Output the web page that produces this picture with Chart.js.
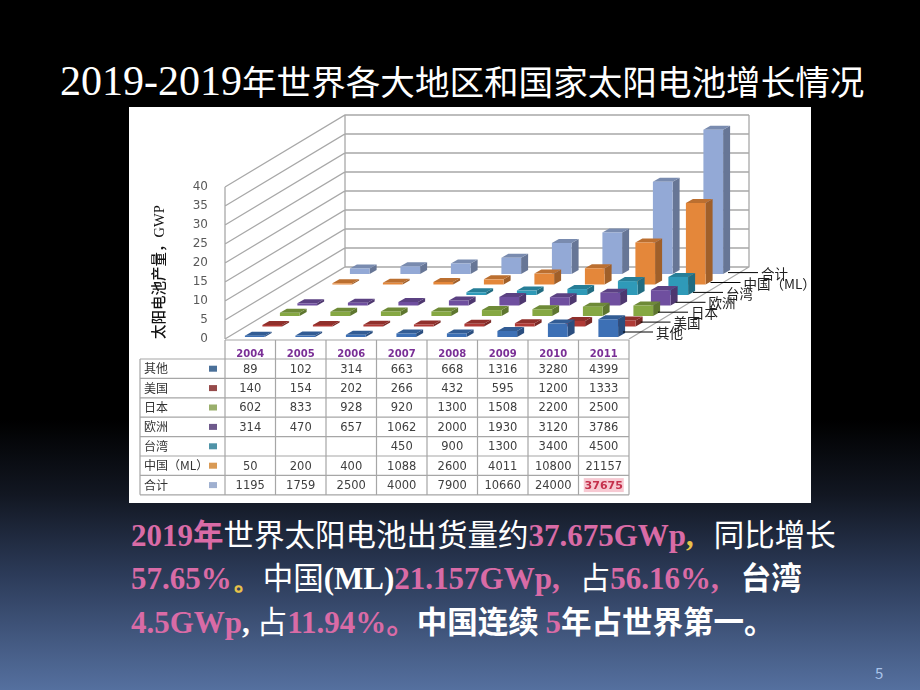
<!DOCTYPE html>
<html>
<head>
<meta charset="utf-8">
<script src="https://cdn.jsdelivr.net/npm/chart.js@4"></script>
<style>
html, body { margin: 0; padding: 0; }
body {
	width: 920px; height: 690px; overflow: hidden; position: relative;
	background: linear-gradient(#000 0, #000 420px, #121722 495px, #2c3b59 575px, #55709f 690px);
	font-family: "Noto Sans CJK SC", sans-serif; color: #fff;
}
#title {
	position: absolute; left: 60px; top: 50px; white-space: nowrap;
	font-size: 34.6px; line-height: 60px; font-weight: 400;
}
#title .num { font-family: "Liberation Serif"; font-size: 42px; }
#panel { position: absolute; left: 129px; top: 107px; width: 682px; height: 396px; background: #fff; }
.line {
	position: absolute; left: 131px; white-space: nowrap;
	font-size: 30.5px; line-height: 44px; height: 44px;
}
.line b { font-weight: 700; }
.p { color: #d96ba6; font-family: "Liberation Serif"; font-weight: 700; font-size: 31px; }
.pc { color: #d96ba6; font-weight: 700; }
.y { color: #e8c24a; font-family: "Liberation Serif"; font-weight: 700; }
.w { color: #fff; font-family: "Liberation Serif"; font-weight: 700; font-size: 31px; }
#page { position: absolute; left: 875px; top: 662px; font-size: 15px; color: #a9c4ea; }
</style>
</head>
<body>
<div id="title"><span class="num">2019-2019</span>年世界各大地区和国家太阳电池增长情况</div>
<div id="panel"><canvas id="myChart" width="682" height="396"></canvas></div>
<div class="line" style="top:511px"><span class="p">2019</span><span class="pc">年</span>世界太阳电池出货量约<span class="p">37.675GWp</span><span class="y">,</span><span style="margin-left:20px">同比增长</span></div>
<div class="line" style="top:554px"><span class="p">57.65%</span><span class="y">。</span>中国<span class="w">(ML)</span><span class="p">21.157GWp,</span><span style="margin-left:20px">占</span><span class="p">56.16%,</span><span style="margin-left:22px"><b>台湾</b></span></div>
<div class="line" style="top:598px"><span class="p">4.5GWp</span><span class="w">,</span>&nbsp;占<span class="p">11.94%</span><span class="pc">。</span><b>中国连续</b>&nbsp;<span class="p">5</span><b>年占世界第一。</b></div>
<div id="page">5</div>

<script>
const years = ["2004", "2005", "2006", "2007", "2008", "2009", "2010", "2011"];
const seriesNames = ["其他", "美国", "日本", "欧洲", "台湾", "中国（ML）", "合计"];

// MW, as printed in the table under the chart
const other = [89, 102, 314, 663, 668, 1316, 3280, 4399];
const usa = [140, 154, 202, 266, 432, 595, 1200, 1333];
const japan = [602, 833, 928, 920, 1300, 1508, 2200, 2500];
const europe = [314, 470, 657, 1062, 2000, 1930, 3120, 3786];
const taiwan = [null, null, null, 450, 900, 1300, 3400, 4500];
const chinaML = [50, 200, 400, 1088, 2600, 4011, 10800, 21157];
const total = [1195, 1759, 2500, 4000, 7900, 10660, 24000, 37675];
const allSeries = [other, usa, japan, europe, taiwan, chinaML, total];

const barColors = ["#3d70b5", "#b03a36", "#86a843", "#6f4f9f", "#2f9ab8", "#e4873a", "#93a9d6"];
const swatchColors = ["#4a7099", "#964a4a", "#9aaf6c", "#6e5a8c", "#4f93a8", "#d99a55", "#9fb0d0"];

// oblique projection of the 3d box
const WALL_DX = 120, WALL_DY = 72;
const ROW_DX = 17.5, ROW_DY = 10.5;
const BAR_DX = 7, BAR_DY = 4;
const TABLE_TOP = 252, ROW_H = 19.4, TABLE_LEFT = 11;

function shade(hex, f) {
	const n = parseInt(hex.slice(1), 16);
	const r = Math.round((n >> 16) * f), g = Math.round(((n >> 8) & 255) * f), b = Math.round((n & 255) * f);
	return "rgb(" + r + "," + g + "," + b + ")";
}

function poly(ctx, pts, fill) {
	ctx.beginPath();
	pts.forEach((p, i) => i ? ctx.lineTo(p[0], p[1]) : ctx.moveTo(p[0], p[1]));
	ctx.closePath();
	ctx.fillStyle = fill;
	ctx.fill();
}

const box3d = {
	id: "box3d",
	// push every row of bars back along the floor
	afterDatasetsUpdate(chart) {
		chart.getSortedVisibleDatasetMetas().forEach(meta => {
			const dx = 4.5 + ROW_DX * meta.index, dy = 3 + ROW_DY * meta.index;
			meta.data.forEach(el => {
				el.x += dx;
				el.y -= dy;
				el.base -= dy - 1;
			});
		});
	},
	beforeDatasetsDraw(chart) {
		const ctx = chart.ctx, a = chart.chartArea, y = chart.scales.y;
		ctx.save();
		ctx.strokeStyle = "#a8a8a8";
		ctx.lineWidth = 1.3;
		ctx.beginPath();
		y.ticks.forEach(t => {
			const py = y.getPixelForValue(t.value);
			ctx.moveTo(a.left, py);
			ctx.lineTo(a.left + WALL_DX, py - WALL_DY);
			ctx.lineTo(a.right + WALL_DX, py - WALL_DY);
		});
		ctx.moveTo(a.left + WALL_DX, a.top - WALL_DY);
		ctx.lineTo(a.left + WALL_DX, a.bottom - WALL_DY);
		ctx.moveTo(a.right + WALL_DX, a.top - WALL_DY);
		ctx.lineTo(a.right + WALL_DX, a.bottom - WALL_DY);
		ctx.lineTo(a.right, a.bottom);
		ctx.moveTo(a.left, a.top);
		ctx.lineTo(a.left, a.bottom);
		ctx.stroke();
		ctx.restore();
	},
	beforeDatasetDraw(chart, args) {
		const ctx = chart.ctx, color = barColors[args.index];
		args.meta.data.forEach((el, i) => {
			if (allSeries[args.index][i] == null) return;
			const l = el.x - el.width / 2, r = el.x + el.width / 2;
			poly(ctx, [[r, el.y], [r + BAR_DX, el.y - BAR_DY], [r + BAR_DX, el.base - BAR_DY], [r, el.base]], shade(color, 0.7));
			poly(ctx, [[l, el.y], [l + BAR_DX, el.y - BAR_DY], [r + BAR_DX, el.y - BAR_DY], [r, el.y]], shade(color, 0.82));
		});
	},
	afterDatasetsDraw(chart) {
		const ctx = chart.ctx, a = chart.chartArea, x = chart.scales.x;
		ctx.save();

		// series names on the floor edge
		ctx.textBaseline = "middle";
		ctx.font = "13.5px 'Noto Sans CJK SC'";
		seriesNames.forEach((name, i) => {
			const ly = 225 - 9.9 * i;
			ctx.strokeStyle = "#000";
			ctx.lineWidth = 1;
			ctx.beginPath();
			ctx.moveTo(494 + ROW_DX * i, ly);
			ctx.lineTo(524 + ROW_DX * i, ly);
			ctx.stroke();
			ctx.fillStyle = "#222";
			ctx.fillText(name, 527 + ROW_DX * i, ly + 1);
		});

		// data table
		const bottom = TABLE_TOP + ROW_H * seriesNames.length;
		ctx.strokeStyle = "#a6a6a6";
		ctx.lineWidth = 1.2;
		ctx.beginPath();
		ctx.moveTo(a.left, a.bottom + 1);
		ctx.lineTo(a.right, a.bottom + 1);
		for (let r = 0; r <= seriesNames.length; r++) {
			ctx.moveTo(TABLE_LEFT, TABLE_TOP + ROW_H * r);
			ctx.lineTo(a.right, TABLE_TOP + ROW_H * r);
		}
		ctx.moveTo(TABLE_LEFT, TABLE_TOP);
		ctx.lineTo(TABLE_LEFT, bottom);
		for (let c = 0; c <= years.length; c++) {
			const vx = a.left + (a.right - a.left) / years.length * c;
			ctx.moveTo(vx, a.bottom + 1);
			ctx.lineTo(vx, bottom);
		}
		ctx.stroke();

		seriesNames.forEach((name, r) => {
			const cy = TABLE_TOP + ROW_H * (r + 0.5);
			ctx.font = "12px 'Noto Sans CJK SC'";
			ctx.textAlign = "left";
			ctx.fillStyle = "#333";
			ctx.fillText(name, 15, cy);
			ctx.fillStyle = swatchColors[r];
			ctx.fillRect(80, cy - 3, 8, 6);
			ctx.font = "11.5px 'DejaVu Sans'";
			ctx.textAlign = "center";
			allSeries[r].forEach((v, c) => {
				if (v == null) return;
				const cx = x.getPixelForValue(c);
				if (r === 6 && c === 7) {
					ctx.fillStyle = "#f7c9d2";
					ctx.fillRect(cx - 20, cy - 7, 40, 14);
					ctx.fillStyle = "#c5304c";
					ctx.font = "bold 11px 'DejaVu Sans'";
				} else {
					ctx.fillStyle = "#404040";
				}
				ctx.fillText(String(v), cx, cy + 1);
			});
		});
		ctx.restore();
	}
};

const ctx = document.getElementById("myChart").getContext("2d");
const myChart = new Chart(ctx, {
	type: "bar",
	plugins: [box3d],
	data: {
		labels: years,
		datasets: allSeries.map((vals, i) => ({
			label: seriesNames[i],
			data: vals.map(v => v == null ? null : v / 1000),
			backgroundColor: barColors[i],
			borderWidth: 0,
			clip: false,
		})),
	},
	options: {
		responsive: false,
		animation: false,
		layout: { padding: { top: 80, right: 182, bottom: 0, left: 0 } },
		datasets: { bar: { grouped: false, categoryPercentage: 1, barPercentage: 0.39 } },
		plugins: {
			legend: { display: false },
			tooltip: { enabled: false },
		},
		scales: {
			x: {
				grid: { display: false },
				border: { display: false },
				afterFit(scale) { scale.height = 164; },
				ticks: {
					padding: 1,
					maxRotation: 0,
					autoSkip: false,
					color: "#7a2f96",
					font: { size: 10, weight: "bold", family: "DejaVu Sans" },
				},
			},
			y: {
				min: 0,
				max: 40,
				grid: { display: false },
				border: { display: false },
				afterFit(scale) { scale.width = 96; },
				title: {
					display: true,
					text: "太阳电池产量，GWP",
					align: "start",
					color: "#111",
					font: { size: 14.5, weight: "500", family: "'Liberation Serif', 'Noto Sans CJK SC'" },
					padding: { top: 22, bottom: 0 },
				},
				ticks: {
					stepSize: 5,
					padding: 9,
					color: "#595959",
					font: { size: 12, family: "DejaVu Sans" },
				},
			},
		},
	},
});
</script>
</body>
</html>
